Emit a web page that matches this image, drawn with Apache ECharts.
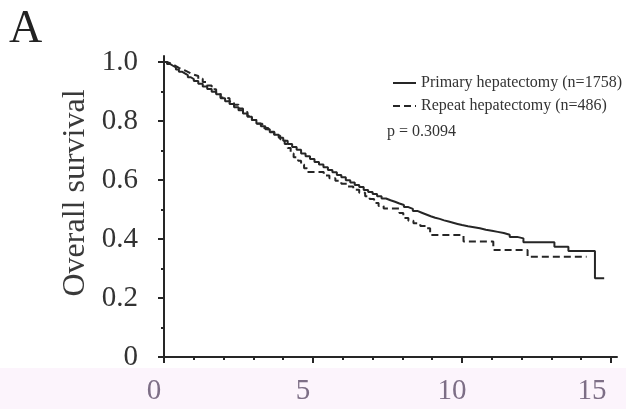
<!DOCTYPE html>
<html><head><meta charset="utf-8">
<script src="https://cdn.jsdelivr.net/npm/echarts@6/dist/echarts.min.js"></script>
<style>html,body{margin:0;padding:0;background:#fff}#c{width:626px;height:409px}</style>
</head><body><div id="c"></div>
<script>
// Kaplan–Meier estimates (time in years, survival probability)
const primaryTime = [0,0.1,0.2,0.3,0.4,0.5,0.6,0.7,0.8,0.9,1.0,1.15,1.3,1.45,1.6,1.75,1.9,2.05,2.2,2.35,2.5,2.65,2.8,2.95,3.1,3.25,3.4,3.55,3.7,3.85,4.0,4.15,4.3,4.45,4.6,4.75,4.9,5.05,5.2,5.35,5.5,5.65,5.8,5.95,6.1,6.25,6.4,6.55,6.7,6.85,7.0,7.15,7.3,7.45,7.6,7.75,7.9,8.05,8.2,8.35,8.5,8.65,8.8,8.95,9.1,9.25,9.4,9.55,9.7,9.85,10.0,10.2,10.4,10.6,10.8,11.0,11.2,11.4,11.6,11.85,12.06,13.1,13.57,14.46,14.77];
const primarySurv = [1,0.993,0.987,0.981,0.974,0.967,0.961,0.955,0.948,0.942,0.935,0.926,0.917,0.908,0.899,0.89,0.877,0.867,0.857,0.846,0.836,0.825,0.814,0.803,0.791,0.782,0.772,0.762,0.753,0.743,0.733,0.722,0.712,0.702,0.69,0.68,0.671,0.661,0.652,0.643,0.634,0.626,0.617,0.609,0.599,0.591,0.583,0.576,0.566,0.559,0.552,0.545,0.537,0.531,0.526,0.52,0.515,0.508,0.502,0.495,0.489,0.483,0.477,0.472,0.468,0.463,0.459,0.455,0.451,0.447,0.443,0.44,0.436,0.431,0.428,0.424,0.42,0.414,0.407,0.402,0.389,0.374,0.359,0.267,0.267];
const repeatTime = [0,0.1,0.2,0.3,0.4,0.5,0.6,0.7,0.8,0.9,1.0,1.15,1.3,1.45,1.6,1.75,1.9,2.05,2.2,2.35,2.5,2.65,2.8,2.95,3.1,3.3,3.5,3.7,3.9,4.05,4.15,4.25,4.35,4.5,4.6,4.7,4.8,5.36,5.55,5.75,5.95,6.15,6.35,6.55,6.75,6.9,7.05,7.2,7.37,7.9,8.03,8.2,8.37,8.6,8.81,8.93,10.05,11.05,12.2,14.18];
const repeatSurv = [1,0.996,0.991,0.986,0.98,0.975,0.971,0.966,0.961,0.957,0.952,0.943,0.932,0.92,0.907,0.895,0.879,0.877,0.866,0.855,0.842,0.83,0.817,0.803,0.79,0.776,0.763,0.75,0.738,0.722,0.708,0.69,0.677,0.665,0.652,0.64,0.627,0.615,0.606,0.597,0.587,0.578,0.567,0.557,0.545,0.535,0.522,0.512,0.503,0.488,0.471,0.462,0.453,0.444,0.436,0.413,0.391,0.363,0.34,0.34];
const seriesNames = ['Primary hepatectomy (n=1758)', 'Repeat hepatectomy (n=486)'];
const xMajorTicks = [0,5,10,15];
const xMinorTicks = [1,2,3,4,6,7,8,9,11,12,13,14];
const yMajorTicks = [0,0.2,0.4,0.6,0.8,1.0];
const yMinorTicks = [0.1,0.3,0.5,0.7,0.9];
const yAxisTitle = 'Overall survival';
const panelLabel = 'A';
const pValueText = 'p = 0.3094';

const INK = '#262626';
const SERIF = '"Liberation Serif", "DejaVu Serif", serif';
const chart = echarts.init(document.getElementById('c'), null, {renderer: 'canvas'});

const toPairs = (ts, ss) => ts.map((t, i) => [t, ss[i]]);

const axisBase = {type: 'value', gridIndex: 0, splitLine: {show: false}};

chart.setOption({
  animation: false,
  backgroundColor: '#ffffff',
  grid: {left: 164, right: 9, top: 56, bottom: 52, containLabel: false},
  xAxis: [
    Object.assign({}, axisBase, {
      position: 'bottom', min: 0, max: 15.2,
      axisLine: {show: true, lineStyle: {color: INK, width: 2}},
      axisTick: {show: true, customValues: xMajorTicks, length: 6, inside: false, lineStyle: {color: INK, width: 2}},
      axisLabel: {show: true, customValues: xMajorTicks, margin: 20, color: '#7d6e86', fontSize: 29, fontFamily: SERIF,
        formatter: v => (v === 15 ? '{s|' + v + '}' : '{n|' + v + '}'),
        rich: {
          n: {color: '#7d6e86', fontSize: 29, fontFamily: SERIF, padding: [0, 20, 0, 0]},
          s: {color: '#7d6e86', fontSize: 29, fontFamily: SERIF, padding: [0, 38, 0, 0]}
        }}
    }),
    Object.assign({}, axisBase, {
      position: 'bottom', min: 0, max: 15.2,
      axisLine: {show: false},
      axisTick: {show: true, customValues: xMinorTicks, length: 3, lineStyle: {color: INK, width: 2}},
      axisLabel: {show: false}
    })
  ],
  yAxis: [
    Object.assign({}, axisBase, {
      position: 'left', min: 0, max: 1.02,
      axisLine: {show: true, lineStyle: {color: INK, width: 2}},
      axisTick: {show: true, customValues: yMajorTicks, length: 6, lineStyle: {color: INK, width: 2}},
      axisLabel: {show: true, customValues: yMajorTicks, margin: 26, color: '#333333', fontSize: 29, fontFamily: SERIF,
        formatter: v => (v === 0 ? '0' : Number(v).toFixed(1))}
    }),
    Object.assign({}, axisBase, {
      position: 'left', min: 0, max: 1.02,
      axisLine: {show: false},
      axisTick: {show: true, customValues: yMinorTicks, length: 3, lineStyle: {color: INK, width: 2}},
      axisLabel: {show: false}
    })
  ],
  legend: {
    orient: 'vertical', left: 387, top: 70,
    itemWidth: 23, itemHeight: 14, itemGap: 7,
    itemStyle: {color: 'rgba(0,0,0,0)', borderWidth: 0, opacity: 0},
    textStyle: {color: '#333333', fontSize: 16, fontFamily: SERIF},
    data: seriesNames
  },
  series: [
    {
      name: seriesNames[0], type: 'line', step: 'end', xAxisIndex: 0, yAxisIndex: 0,
      showSymbol: false, symbol: 'none',
      lineStyle: {color: INK, width: 2, type: 'solid'}, itemStyle: {color: INK},
      data: toPairs(primaryTime, primarySurv)
    },
    {
      name: seriesNames[1], type: 'line', step: 'end', xAxisIndex: 0, yAxisIndex: 0,
      showSymbol: false, symbol: 'none',
      lineStyle: {color: INK, width: 2, type: [7, 4]}, itemStyle: {color: INK},
      data: toPairs(repeatTime, repeatSurv)
    }
  ],
  graphic: {elements: [
    {type: 'rect', z: -100, silent: true, shape: {x: 0, y: 368, width: 626, height: 41}, style: {fill: '#fcf4fc'}},
    {type: 'text', left: 9, top: 7, style: {text: panelLabel, fill: '#222222', fontSize: 46, fontFamily: SERIF}},
    {type: 'text', x: 76, y: 193, rotation: Math.PI / 2,
      style: {text: yAxisTitle, fill: '#3a3a3a', fontSize: 32, fontFamily: SERIF, align: 'center', verticalAlign: 'middle'}},
    {type: 'text', x: 387, y: 132, style: {text: pValueText, fill: '#333333', fontSize: 16, fontFamily: SERIF, align: 'left', verticalAlign: 'middle'}}
  ]}
});
</script>
</body></html>
